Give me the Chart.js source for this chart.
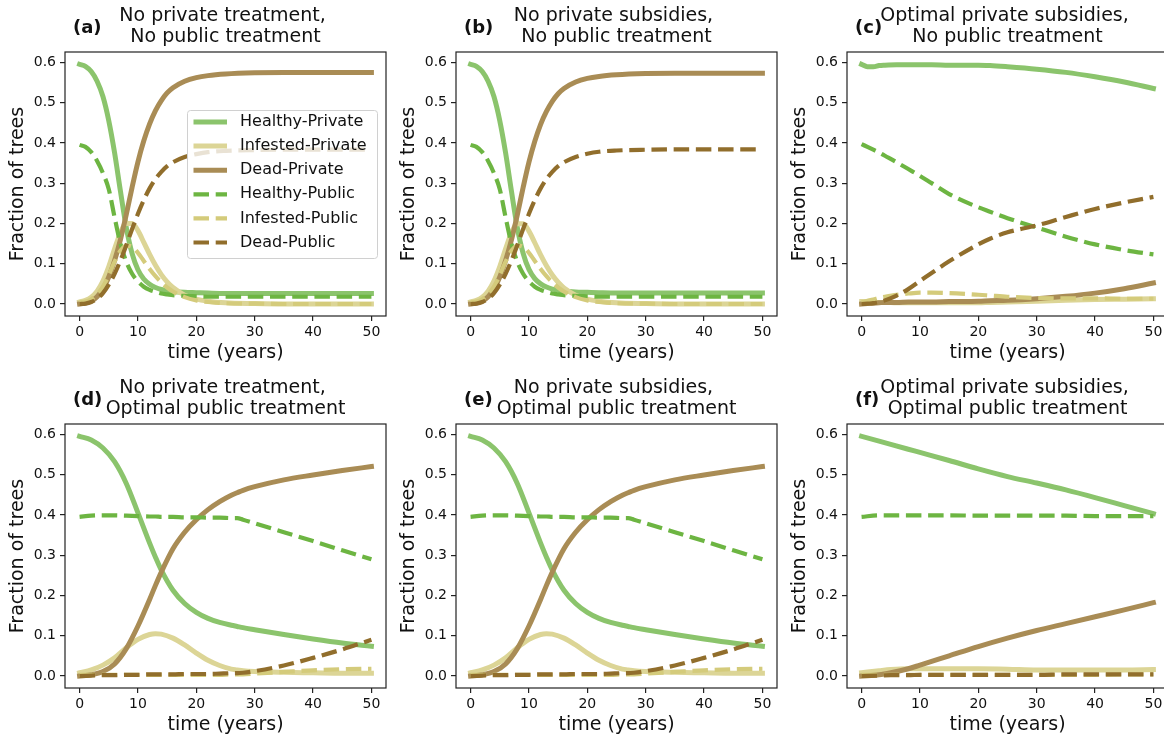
<!DOCTYPE html>
<html>
<head>
<meta charset="utf-8">
<script src="https://cdn.jsdelivr.net/npm/chart.js@4.4.0/dist/chart.umd.min.js"></script>
<style>
html,body{margin:0;padding:0;background:#fff;overflow:hidden;width:1164px;height:739px;}
canvas{position:absolute;}
</style>
</head>
<body>
<canvas id="pa" width="390" height="368" style="left:0;top:0"></canvas>
<canvas id="pb" width="390" height="368" style="left:391px;top:0"></canvas>
<canvas id="pc" width="390" height="368" style="left:782px;top:0"></canvas>
<canvas id="pd" width="390" height="368" style="left:0;top:372px"></canvas>
<canvas id="pe" width="390" height="368" style="left:391px;top:372px"></canvas>
<canvas id="pf" width="390" height="368" style="left:782px;top:372px"></canvas>
<script>
const FONT = "DejaVu Sans";

const seriesNames = ["Healthy-Private","Infested-Private","Dead-Private","Healthy-Public","Infested-Public","Dead-Public"];
const seriesColors = ["#8bc46c","#dcd596","#a98c55","#6db542","#d4cb7b","#916e2c"];

const xTicks = [0,10,20,30,40,50];
const yTicks = [0,0.1,0.2,0.3,0.4,0.5,0.6];

// (a) no private treatment, no public treatment
const timeA = [0,1,2,3,4,5,6,7,8,9,10,11,12,13,14,15,16,18,20,22,25,30,35,40,45,50];
const healthyPrivA  = [0.595,0.590,0.577,0.553,0.515,0.455,0.375,0.280,0.190,0.125,0.085,0.062,0.049,0.041,0.036,0.033,0.031,0.029,0.028,0.027,0.026,0.026,0.026,0.026,0.026,0.026];
const infestedPrivA = [0.005,0.009,0.017,0.032,0.057,0.093,0.137,0.177,0.200,0.200,0.182,0.153,0.123,0.096,0.073,0.055,0.041,0.022,0.012,0.007,0.003,0.001,0,0,0,0];
const deadPrivA     = [0,0.002,0.007,0.018,0.037,0.067,0.108,0.160,0.222,0.290,0.353,0.405,0.447,0.480,0.505,0.524,0.537,0.553,0.562,0.567,0.571,0.574,0.575,0.575,0.575,0.575];
const healthyPubA   = [0.395,0.390,0.377,0.355,0.325,0.285,0.215,0.150,0.105,0.075,0.056,0.043,0.035,0.030,0.026,0.024,0.022,0.020,0.019,0.018,0.018,0.018,0.018,0.018,0.018,0.018];
const infestedPubA  = [0.004,0.006,0.012,0.024,0.043,0.072,0.105,0.132,0.145,0.142,0.127,0.107,0.087,0.069,0.054,0.041,0.031,0.017,0.009,0.005,0.002,0.001,0,0,0,0];
const deadPubA      = [0,0.001,0.005,0.013,0.027,0.048,0.075,0.108,0.146,0.186,0.224,0.258,0.287,0.310,0.328,0.342,0.352,0.365,0.372,0.377,0.380,0.382,0.383,0.383,0.383,0.383];

// (b) no private subsidies, no public treatment
const timeB = [0,1,2,3,4,5,6,7,8,9,10,11,12,13,14,15,16,18,20,22,25,30,35,40,45,50];
const healthyPrivB  = [0.595,0.590,0.577,0.553,0.515,0.455,0.375,0.280,0.190,0.126,0.086,0.063,0.050,0.042,0.037,0.034,0.032,0.030,0.029,0.028,0.027,0.027,0.027,0.027,0.027,0.027];
const infestedPrivB = [0.005,0.009,0.017,0.032,0.057,0.093,0.137,0.177,0.199,0.199,0.181,0.152,0.122,0.095,0.072,0.054,0.040,0.022,0.012,0.007,0.003,0.001,0,0,0,0];
const deadPrivB     = [0,0.002,0.007,0.018,0.037,0.067,0.108,0.159,0.221,0.289,0.352,0.404,0.446,0.478,0.503,0.522,0.535,0.551,0.560,0.565,0.569,0.572,0.573,0.573,0.573,0.573];
const healthyPubB   = [0.395,0.390,0.377,0.355,0.325,0.285,0.215,0.150,0.105,0.075,0.056,0.043,0.035,0.030,0.026,0.024,0.022,0.020,0.019,0.018,0.018,0.018,0.018,0.018,0.018,0.018];
const infestedPubB  = [0.004,0.006,0.012,0.024,0.043,0.072,0.105,0.132,0.145,0.142,0.127,0.107,0.087,0.069,0.054,0.041,0.031,0.017,0.009,0.005,0.002,0.001,0,0,0,0];
const deadPubB      = [0,0.001,0.005,0.013,0.027,0.048,0.075,0.108,0.146,0.186,0.224,0.258,0.287,0.310,0.328,0.342,0.352,0.365,0.373,0.378,0.381,0.383,0.384,0.384,0.384,0.384];

// (c) optimal private subsidies, no public treatment
const timeC = [0,1,2,3,4,6,8,10,12,15,20,22,25,30,35,40,45,50];
const healthyPrivC  = [0.595,0.589,0.589,0.592,0.593,0.594,0.594,0.594,0.594,0.593,0.593,0.592,0.589,0.583,0.575,0.564,0.551,0.535];
const infestedPrivC = [0.006,0.005,0.004,0.004,0.004,0.003,0.003,0.003,0.003,0.003,0.003,0.004,0.005,0.007,0.009,0.011,0.012,0.013];
const deadPrivC     = [0,0.001,0.002,0.003,0.004,0.004,0.005,0.005,0.005,0.006,0.007,0.008,0.009,0.013,0.019,0.027,0.038,0.052];
const healthyPubC   = [0.397,0.390,0.383,0.376,0.368,0.352,0.335,0.318,0.300,0.273,0.240,0.229,0.213,0.190,0.167,0.148,0.134,0.123];
const infestedPubC  = [0.005,0.008,0.011,0.015,0.018,0.023,0.026,0.028,0.028,0.027,0.023,0.021,0.018,0.015,0.014,0.014,0.013,0.013];
const deadPubC      = [0,0.001,0.002,0.005,0.009,0.021,0.037,0.057,0.077,0.106,0.148,0.162,0.178,0.195,0.216,0.236,0.252,0.266];

// (d) no private treatment, optimal public treatment
const timeD = [0,2,4,6,8,10,12,13,14,16,18,20,22,24,26,27,28,30,35,40,45,50];
const healthyPrivD  = [0.595,0.586,0.566,0.532,0.478,0.405,0.330,0.295,0.263,0.213,0.180,0.158,0.143,0.133,0.126,0.123,0.120,0.115,0.103,0.092,0.082,0.074];
const infestedPrivD = [0.008,0.015,0.027,0.045,0.070,0.091,0.103,0.105,0.104,0.094,0.077,0.057,0.039,0.026,0.017,0.015,0.013,0.011,0.009,0.008,0.007,0.007];
const deadPrivD     = [0,0.003,0.011,0.030,0.068,0.124,0.190,0.225,0.258,0.316,0.357,0.388,0.413,0.433,0.449,0.455,0.461,0.470,0.487,0.499,0.510,0.520];
const healthyPubD   = [0.395,0.398,0.399,0.399,0.398,0.397,0.396,0.396,0.395,0.395,0.394,0.394,0.393,0.393,0.392,0.392,0.388,0.379,0.357,0.335,0.312,0.290];
const infestedPubD  = [0.003,0.003,0.003,0.003,0.003,0.003,0.003,0.003,0.003,0.003,0.003,0.003,0.003,0.003,0.004,0.004,0.004,0.006,0.010,0.014,0.017,0.018];
const deadPubD      = [0,0.001,0.002,0.002,0.003,0.003,0.004,0.004,0.004,0.004,0.005,0.005,0.005,0.006,0.007,0.007,0.008,0.012,0.026,0.045,0.066,0.090];

// (e) no private subsidies, optimal public treatment
const timeE = [0,2,4,6,8,10,12,13,14,16,18,20,22,24,26,27,28,30,35,40,45,50];
const healthyPrivE  = [0.595,0.586,0.566,0.532,0.478,0.405,0.330,0.295,0.263,0.213,0.180,0.158,0.143,0.133,0.126,0.123,0.120,0.115,0.103,0.092,0.082,0.074];
const infestedPrivE = [0.008,0.015,0.027,0.045,0.070,0.091,0.103,0.105,0.104,0.094,0.077,0.057,0.039,0.026,0.017,0.015,0.013,0.011,0.009,0.008,0.007,0.007];
const deadPrivE     = [0,0.003,0.011,0.030,0.068,0.124,0.190,0.225,0.258,0.316,0.357,0.388,0.413,0.433,0.449,0.455,0.461,0.470,0.487,0.499,0.510,0.520];
const healthyPubE   = [0.395,0.398,0.399,0.399,0.398,0.397,0.396,0.396,0.395,0.395,0.394,0.394,0.393,0.393,0.392,0.392,0.388,0.379,0.357,0.335,0.312,0.290];
const infestedPubE  = [0.003,0.003,0.003,0.003,0.003,0.003,0.003,0.003,0.003,0.003,0.003,0.003,0.003,0.003,0.004,0.004,0.004,0.006,0.010,0.014,0.017,0.018];
const deadPubE      = [0,0.001,0.002,0.002,0.003,0.003,0.004,0.004,0.004,0.004,0.005,0.005,0.005,0.006,0.007,0.007,0.008,0.012,0.026,0.045,0.066,0.090];

// (f) optimal private subsidies, optimal public treatment
const timeF = [0,3,5,8,10,15,20,25,30,35,40,45,50];
const healthyPrivF  = [0.595,0.583,0.575,0.563,0.555,0.535,0.514,0.495,0.479,0.462,0.443,0.423,0.403];
const infestedPrivF = [0.008,0.013,0.016,0.018,0.018,0.018,0.018,0.017,0.015,0.015,0.015,0.015,0.016];
const deadPrivF     = [0,0.003,0.008,0.018,0.027,0.050,0.073,0.094,0.113,0.130,0.147,0.164,0.182];
const healthyPubF   = [0.395,0.399,0.399,0.399,0.399,0.399,0.398,0.398,0.398,0.398,0.397,0.397,0.397];
const infestedPubF  = [0.003,0.003,0.003,0.003,0.003,0.003,0.003,0.003,0.003,0.003,0.003,0.004,0.004];
const deadPubF      = [0,0.001,0.002,0.002,0.003,0.003,0.003,0.003,0.003,0.004,0.004,0.004,0.004];

const framePlugin = {
  id: "frame",
  afterDatasetsDraw(chart){
    const {ctx, chartArea: a} = chart;
    ctx.save();
    ctx.strokeStyle = "#222";
    ctx.lineWidth = 1.2;
    ctx.strokeRect(a.left, a.top, a.right - a.left, a.bottom - a.top);
    ctx.restore();
  }
};

const panelTextPlugin = {
  id: "panelText",
  afterDraw(chart, args, opts){
    const {ctx, chartArea: a} = chart;
    const cx = (a.left + a.right) / 2;
    ctx.save();
    ctx.fillStyle = "#111";
    ctx.textBaseline = "middle";
    ctx.textAlign = "center";
    ctx.font = "19px '" + FONT + "'";
    ctx.fillText(opts.lines[0], cx, a.top - 36);
    ctx.fillText(opts.lines[1], cx, a.top - 15);
    ctx.textAlign = "left";
    ctx.font = "bold 18px '" + FONT + "'";
    ctx.fillText(opts.letter, a.left + 8, a.top - 24);
    ctx.restore();
  }
};

const boxLegendPlugin = {
  id: "boxLegend",
  afterDraw(chart, args, opts){
    if(!opts.show) return;
    const {ctx, chartArea: a} = chart;
    const bx = a.left + 122, by = a.top + 58, bw = 190, bh = 148;
    ctx.save();
    ctx.beginPath();
    ctx.roundRect(bx + 0.5, by + 0.5, bw, bh, 3);
    ctx.fillStyle = "rgba(255,255,255,0.8)";
    ctx.fill();
    ctx.strokeStyle = "#d0d0d0";
    ctx.lineWidth = 1;
    ctx.stroke();
    chart.data.datasets.forEach((ds, i)=>{
      const y = by + 12 + i * 24.1;
      ctx.beginPath();
      ctx.strokeStyle = ds.borderColor;
      ctx.lineWidth = ds.borderWidth;
      ctx.setLineDash(ds.borderDash);
      ctx.lineCap = ds.borderCapStyle;
      ctx.moveTo(bx + (i < 3 ? 9 : 6.5), y);
      ctx.lineTo(bx + (i < 3 ? 37.5 : 40), y);
      ctx.stroke();
      ctx.setLineDash([]);
      ctx.fillStyle = "#111";
      ctx.font = "16px '" + FONT + "'";
      ctx.textBaseline = "middle";
      ctx.textAlign = "left";
      ctx.fillText(ds.label, bx + 53, y);
    });
    ctx.restore();
  }
};

function pts(t, v){
  return t.map((x, i)=>({x: x, y: v[i]}));
}

function makePanel(id, t, series, lines, letter, showLegend){
  const datasets = series.map((v, i)=>({
    label: seriesNames[i],
    data: pts(t, v),
    borderColor: seriesColors[i],
    borderWidth: i < 3 ? 5 : 4.2,
    borderDash: i < 3 ? [] : [15.5, 6.7],
    borderCapStyle: i < 3 ? "square" : "butt",
    pointRadius: 0,
    cubicInterpolationMode: "monotone",
    fill: false,
    order: 6 - i
  }));

  const gridOpts = {display: true, drawOnChartArea: false, drawTicks: true, tickLength: 5, color: "#222", lineWidth: 1.2};

  new Chart(document.getElementById(id), {
    type: "line",
    data: {datasets},
    options: {
      responsive: false,
      animation: false,
      devicePixelRatio: 1,
      layout: {padding: {left: 0, right: 4, top: 52, bottom: 0}},
      plugins: {
        legend: {display: false},
        tooltip: {enabled: false},
        panelText: {lines, letter},
        boxLegend: {show: showLegend}
      },
      scales: {
        x: {
          type: "linear", min: -2.5, max: 52.5,
          afterBuildTicks: s => { s.ticks = xTicks.map(v=>({value: v})); },
          afterFit: s => { s.height = 52; },
          ticks: {font: {family: FONT, size: 14}, color: "#111", padding: 3, maxRotation: 0, autoSkip: false, callback: v => String(v)},
          grid: gridOpts,
          border: {display: false},
          title: {display: true, text: "time (years)", font: {family: FONT, size: 19}, color: "#111", padding: {top: 0, bottom: 3.6}}
        },
        y: {
          type: "linear", min: -0.0298, max: 0.6256,
          afterBuildTicks: s => { s.ticks = yTicks.map(v=>({value: v})); },
          afterFit: s => { s.width = 65; },
          ticks: {font: {family: FONT, size: 14}, color: "#111", padding: 4, autoSkip: false, callback: v => v.toFixed(1)},
          grid: gridOpts,
          border: {display: false},
          title: {display: true, text: "Fraction of trees", font: {family: FONT, size: 19}, color: "#111", padding: {top: 6.6, bottom: 0}}
        }
      }
    },
    plugins: [framePlugin, panelTextPlugin, boxLegendPlugin]
  });
}

makePanel("pa", timeA, [healthyPrivA, infestedPrivA, deadPrivA, healthyPubA, infestedPubA, deadPubA],
  ["No private treatment, ", "No public treatment"], "(a)", true);
makePanel("pb", timeB, [healthyPrivB, infestedPrivB, deadPrivB, healthyPubB, infestedPubB, deadPubB],
  ["No private subsidies, ", "No public treatment"], "(b)", false);
makePanel("pc", timeC, [healthyPrivC, infestedPrivC, deadPrivC, healthyPubC, infestedPubC, deadPubC],
  ["Optimal private subsidies, ", "No public treatment"], "(c)", false);
makePanel("pd", timeD, [healthyPrivD, infestedPrivD, deadPrivD, healthyPubD, infestedPubD, deadPubD],
  ["No private treatment, ", "Optimal public treatment"], "(d)", false);
makePanel("pe", timeE, [healthyPrivE, infestedPrivE, deadPrivE, healthyPubE, infestedPubE, deadPubE],
  ["No private subsidies, ", "Optimal public treatment"], "(e)", false);
makePanel("pf", timeF, [healthyPrivF, infestedPrivF, deadPrivF, healthyPubF, infestedPubF, deadPubF],
  ["Optimal private subsidies, ", "Optimal public treatment"], "(f)", false);
</script>
</body>
</html>
